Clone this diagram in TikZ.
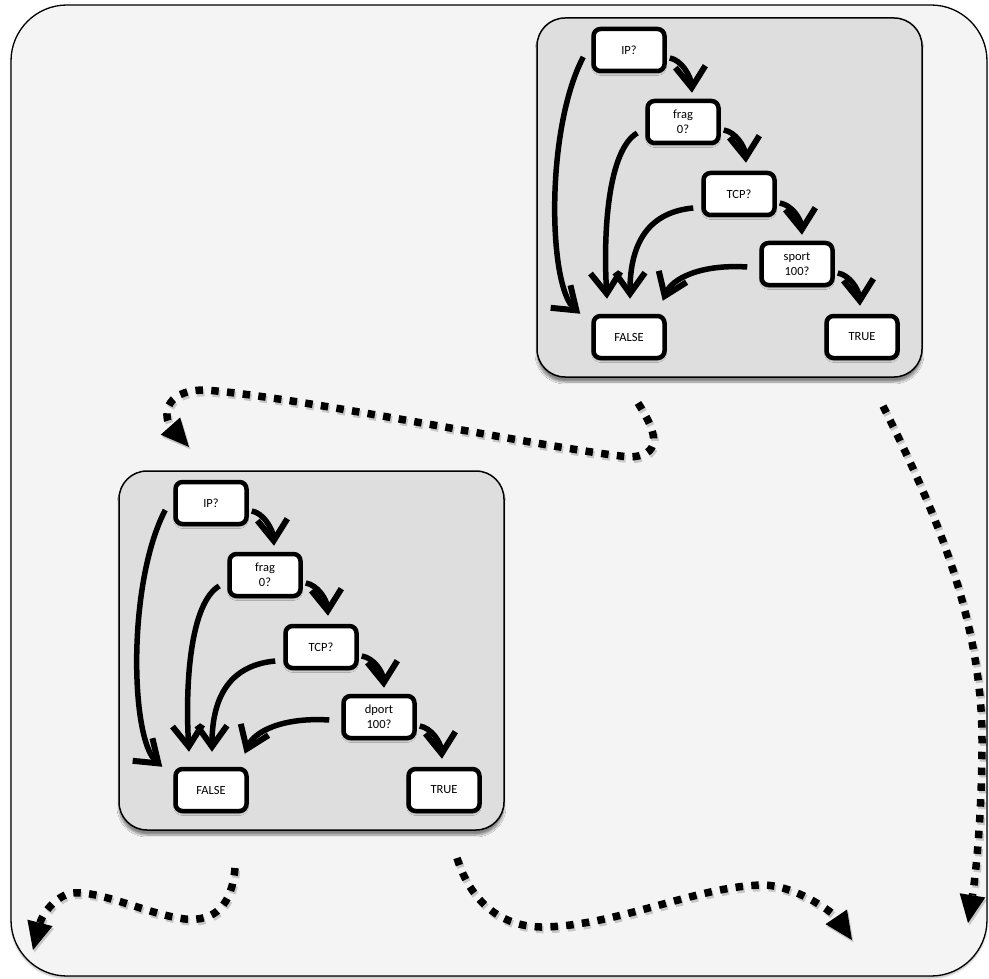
\documentclass[tikz,border=0pt]{standalone}
\usepackage{fontspec}
\setmainfont{Carlito}
\usetikzlibrary{arrows.meta,shadows.blur}

\definecolor{canvas}{HTML}{F4F4F4}
\definecolor{panelgray}{HTML}{DEDEDE}

\tikzset{
  test/.style={draw=black, line width=4.5pt, fill=white, rounded corners=7pt,
    minimum width=71pt, minimum height=42pt, inner sep=1pt, align=center,
    font=\fontsize{12.5}{15}\selectfont,
    blur shadow={shadow xshift=0pt, shadow yshift=-2.5pt, shadow opacity=35, shadow blur steps=6}},
  branch/.style={line width=5.5pt, -{Straight Barb[length=21pt,width=30pt,line width=6pt,sharp]}},
  panelbox/.style={draw=black, line width=1.5pt, fill=panelgray, rounded corners=28pt,
    minimum width=385pt, minimum height=359pt,
    blur shadow={shadow xshift=0pt, shadow yshift=-5pt, shadow opacity=45, shadow blur steps=8}},
  flow/.style={line width=7.5pt, dash pattern=on 7.5pt off 8.3pt,
    -{Triangle[length=28pt,width=26pt,line width=0pt,fill=black]}},
  flowshade/.style={flow, draw=black, opacity=0.18,
    transform canvas={shift={(1.5pt,-2.5pt)}}},
}

% one decision tree inside its grey panel; #1 name prefix, #2 shift, #3 port field
\newcommand\filtertree[3]{%
  \begin{scope}[shift={#2}]
    \node[panelbox] (#1panel) at (729.5,197.5) {};
    \node[test] (#1ip)    at (629,50)  {IP?};
    \node[test] (#1frag)  at (683,122) {frag\\0?};
    \node[test] (#1tcp)   at (739,194) {TCP?};
    \node[test] (#1port)  at (797,264) {#3\\100?};
    \node[test] (#1false) at (629,337) {FALSE};
    \node[test] (#1true)  at (862,337) {TRUE};
    % matching tests lead down the staircase
    \draw[branch] ([shift={(3,8)}]#1ip.east)   .. controls +(12,2) and +(-1,-16) .. ([shift={(9,-6)}]#1frag.north);
    \draw[branch] ([shift={(3,8)}]#1frag.east) .. controls +(12,2) and +(-1,-16) .. ([shift={(7,-8)}]#1tcp.north);
    \draw[branch] ([shift={(3,9)}]#1tcp.east)  .. controls +(12,2) and +(-1,-16) .. ([shift={(5,-6)}]#1port.north);
    \draw[branch] ([shift={(3,9)}]#1port.east) .. controls +(12,2) and +(-1,-16) .. ([shift={(-2,-8)}]#1true.north);
    % failing tests fall through to FALSE
    \draw[branch] ([shift={(-8,7)}]#1ip.west)    .. controls +(-38,73) and +(-32,-28) .. ([shift={(-11,0)}]#1false.north west);
    \draw[branch] ([shift={(-8,11)}]#1frag.west) .. controls +(-29,17) and +(-4,-68) .. ([shift={(-22,-15)}]#1false.north);
    \draw[branch] ([shift={(-8,14)}]#1tcp.west)  .. controls +(-43,4) and +(0,-58) .. ([shift={(1,-15)}]#1false.north);
    \draw[branch] ([shift={(-12,3)}]#1port.west) .. controls +(-47,-3) and +(9,-22) .. ([shift={(-4,-13)}]#1false.north east);
  \end{scope}}

% dotted hand-off arrow with its soft shadow
\newcommand\handoff[1]{\draw[flowshade] #1; \draw[flow] #1;}

\begin{document}
\begin{tikzpicture}[x=1pt, y=-1pt]
  \useasboundingbox (0,0) rectangle (989,979);
  \fill[canvas, draw=black, line width=1.3pt, rounded corners=56pt,
        blur shadow={shadow xshift=0pt, shadow yshift=-2pt, shadow opacity=30}]
        (11,5) rectangle (987,976);

  \filtertree{s}{(0,0)}{sport}
  \filtertree{d}{(-418,453)}{dport}

  \coordinate (sOutA) at (638,403);
  \coordinate (sOutB) at (883,406);
  \coordinate (dIn)   at (189,447);
  \coordinate (dOutA) at (235,868);
  \coordinate (dOutB) at (457,858);
  \coordinate (endA)  at (33,950);
  \coordinate (endB)  at (852,940);
  \coordinate (endC)  at (968,923);

  \handoff{(sOutA) .. controls (652,425) and (668,455) .. (630,457)
           .. controls (555,450) and (300,397) .. (205,390)
           .. controls (160,390) and (165,420) .. (dIn)}
  \handoff{(sOutB) .. controls (935,510) and (982,620) .. (982,740)
           .. controls (982,820) and (975,880) .. (endC)}
  \handoff{(dOutA) .. controls (232,905) and (215,922) .. (185,919)
           .. controls (150,915) and (100,890) .. (72,893)
           .. controls (55,896) and (42,915) .. (endA)}
  \handoff{(dOutB) .. controls (470,900) and (500,928) .. (545,927)
           .. controls (620,925) and (700,885) .. (765,885)
           .. controls (800,887) and (835,915) .. (endB)}
\end{tikzpicture}
\end{document}
